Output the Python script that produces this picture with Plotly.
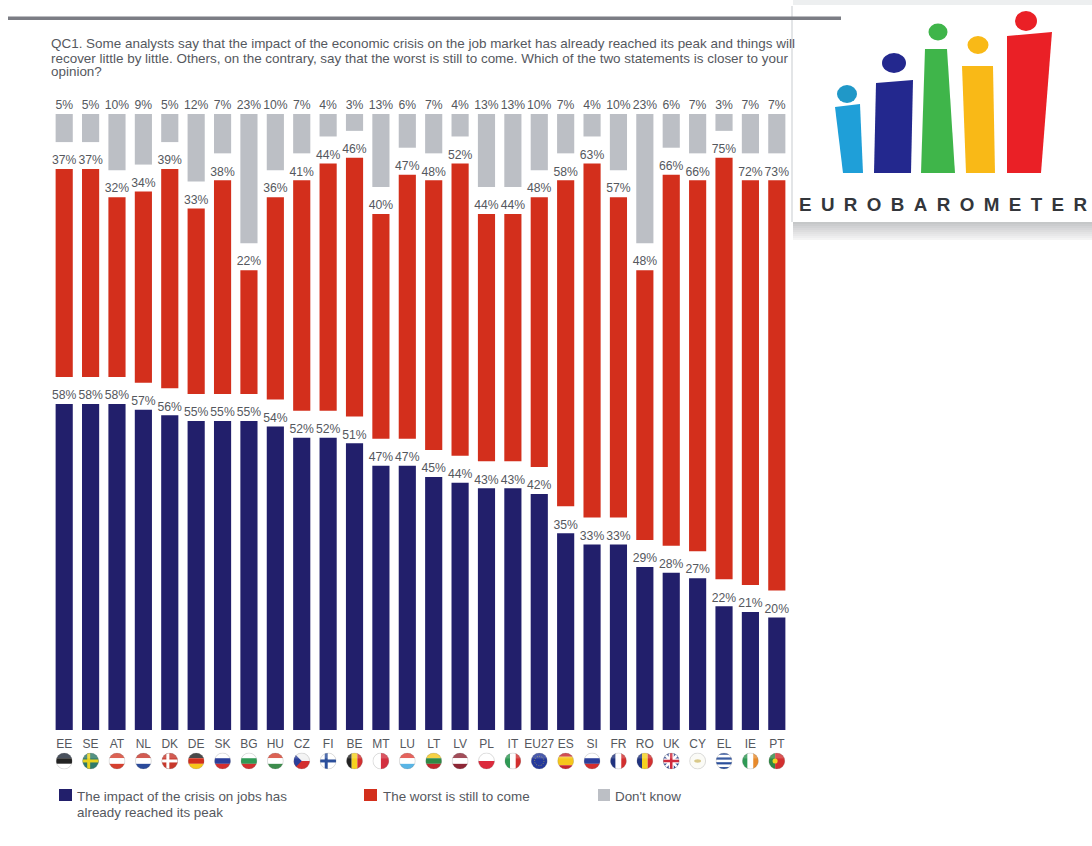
import base64
import plotly.graph_objects as go

countries = ["EE","SE","AT","NL","DK","DE","SK","BG","HU","CZ","FI","BE","MT","LU","LT","LV","PL","IT","EU27","ES","SI","FR","RO","UK","CY","EL","IE","PT"]
peak_reached = [58,58,58,57,56,55,55,55,54,52,52,51,47,47,45,44,43,43,42,35,33,33,29,28,27,22,21,20]
still_to_come = [37,37,32,34,39,33,38,22,36,41,44,46,40,47,48,52,44,44,48,58,63,57,48,66,66,75,72,73]
dont_know = [5,5,10,9,5,12,7,23,10,7,4,3,13,6,7,4,13,13,10,7,4,10,23,6,7,3,7,7]
series_names = [["The impact of the crisis on jobs has", "already reached its peak"], ["The worst is still to come"], ["Don't know"]]
question_lines = ["QC1. Some analysts say that the impact of the economic crisis on the job market has already reached its peak and things will",
                  "recover little by little. Others, on the contrary, say that the worst is still to come. Which of the two statements is closer to your",
                  "opinion?"]
GAP = 4.8
LABEL_LIFT = 0.3
NAVY, RED, GREY, TXT = "#221f6b", "#d32f1c", "#bcbfc5", "#55585e"
FONT = "Liberation Sans, Arial, sans-serif"

W, H = 1092, 846
L, R, T, B = 51, 790, 94, 730
UNIT_PX = 616 / (100 + 2 * GAP)
px = lambda v: (v - L) / (R - L)
py = lambda v: (B - v) / (B - T)

red_base = [a + GAP for a in peak_reached]
grey_base = [a + b + 2 * GAP for a, b in zip(peak_reached, still_to_come)]
pct = lambda vals: [f"{v}%" for v in vals]

fig = go.Figure()
for vals, base, col in [(peak_reached, None, NAVY), (still_to_come, red_base, RED), (dont_know, grey_base, GREY)]:
    fig.add_bar(x=countries, y=vals, base=base, marker=dict(color=col, line_width=0), width=0.65, showlegend=False, hoverinfo="x+y")
for vals, base in [(peak_reached, [0] * 28), (still_to_come, red_base), (dont_know, grey_base)]:
    fig.add_scatter(x=countries, y=[a + b + LABEL_LIFT for a, b in zip(vals, base)], mode="text", text=pct(vals),
                    textposition="top center", textfont=dict(family=FONT, size=12.2, color=TXT),
                    cliponaxis=False, showlegend=False, hoverinfo="skip")

shapes, annos, images = [], [], []

def rect(x0, y0, x1, y1, color, opacity=1, layer="above"):
    shapes.append(dict(type="rect", xref="paper", yref="paper", x0=px(x0), x1=px(x1), y0=py(y0), y1=py(y1),
                       fillcolor=color, opacity=opacity, line_width=0, layer=layer))

def poly(pts, color):
    d = "M" + "L".join(f"{px(x):.5f},{py(y):.5f}" for x, y in pts) + "Z"
    shapes.append(dict(type="path", xref="paper", yref="paper", path=d, fillcolor=color, line_width=0))

def disc(cx, cy, rx, ry, color):
    shapes.append(dict(type="circle", xref="paper", yref="paper", x0=px(cx - rx), x1=px(cx + rx),
                       y0=py(cy + ry), y1=py(cy - ry), fillcolor=color, line_width=0))

def text(x, y, s, size=13.4, color=TXT, anchor="start", weight=None):
    annos.append(dict(xref="paper", yref="paper", x=px(x), y=py(y), text=s, showarrow=False,
                      xanchor="left" if anchor == "start" else "center", yanchor="middle", align="left",
                      font=dict(family=FONT, size=size, color=color, weight=weight), borderpad=0))

# logo card with its shadow
for i, op in enumerate([0.30, 0.27, 0.24, 0.21, 0.18, 0.15, 0.12, 0.09, 0.06]):
    rect(793, 222 + i * 2, 1092, 224 + i * 2, "#40444a", op)
rect(791, 6, 793, 222, "#c8cbcf", 0.5)
rect(793, 0, 1092, 5, "#e6e8ea", 0.7)
poly([(835, 107), (860, 104), (863, 173), (843, 173)], "#1f9fd8")
disc(847, 94, 10, 9, "#2098c8")
poly([(876, 83), (913, 80), (911, 173), (874, 173)], "#23288e")
disc(894, 63, 12, 10, "#23288e")
poly([(925, 49), (947, 49), (955, 173), (921, 173)], "#3fb54a")
disc(938, 32, 9.5, 8.5, "#3fb54a")
poly([(962, 66), (993, 66), (995, 173), (966, 173)], "#f9b917")
disc(978, 45, 10.5, 9, "#f9b917")
poly([(1007, 36), (1052, 32), (1041, 173), (1007, 173)], "#ea2026")
disc(1026, 21, 11, 10, "#ea2026")
text(943, 204.5, "E\u2002U\u2002R\u2002O\u2002B\u2002A\u2002R\u2002O\u2002M\u2002E\u2002T\u2002E\u2002R", size=18.8, color="#33363b", anchor="middle", weight="bold")

# top rule
rect(8, 16.5, 841, 20, "#7b7d84")
# question
for i, line in enumerate(question_lines):
    text(50, 44 + 14 * i, line, size=13.45)
# legend
rect(59, 789, 72, 801, NAVY)
text(76, 796, series_names[0][0])
text(76, 812, series_names[0][1])
rect(364, 789, 377, 801, RED)
text(382, 796, series_names[1][0])
rect(598, 789, 610, 801, GREY)
text(614, 796, series_names[2][0])

# flags
def stripes(cols, vertical=False):
    n = len(cols); out = ""
    for i, c in enumerate(cols):
        if vertical:
            out += f'<rect x="{i*20/n}" y="0" width="{20/n}" height="20" fill="{c}"/>'
        else:
            out += f'<rect x="0" y="{i*20/n}" width="20" height="{20/n}" fill="{c}"/>'
    return out
def nordic(bg, cross):
    return f'<rect width="20" height="20" fill="{bg}"/><rect x="6" width="3.5" height="20" fill="{cross}"/><rect y="8.2" width="20" height="3.5" fill="{cross}"/>'
flags = {
    "EE": stripes(["#222b3a", "#222", "#fff"]),
    "SE": nordic("#2f7a6a", "#e8d21f"),
    "AT": stripes(["#d5402f", "#fff", "#d5402f"]),
    "NL": stripes(["#c8382c", "#fff", "#2b4b9b"]),
    "DK": nordic("#c8382c", "#fff"),
    "DE": stripes(["#222", "#d32f1c", "#f6c71b"]),
    "SK": stripes(["#fff", "#2b3f9b", "#d32f2f"]),
    "BG": stripes(["#fff", "#2f9a55", "#d32f2f"]),
    "HU": stripes(["#d5402f", "#fff", "#3c8c4c"]),
    "CZ": '<rect width="20" height="10" fill="#f2f2f2"/><rect y="10" width="20" height="10" fill="#d32f2f"/><path d="M0 0L10 10L0 20Z" fill="#2b3f9b"/>',
    "FI": nordic("#fff", "#2b4f9b"),
    "BE": stripes(["#222", "#f6d21f", "#d32f2f"], True),
    "MT": stripes(["#fff", "#d32f3f"], True),
    "LU": stripes(["#e0413a", "#fff", "#59b5e6"]),
    "LT": stripes(["#f6c71b", "#2f8a45", "#c1272d"]),
    "LV": stripes(["#8e2635", "#fff", "#8e2635"]),
    "PL": stripes(["#fff", "#dc2a3c"]),
    "IT": stripes(["#2f9a55", "#fff", "#d32f2f"], True),
    "EU27": '<rect width="20" height="20" fill="#24389b"/><circle cx="10" cy="10" r="5.5" fill="none" stroke="#d8c93a" stroke-width="0.8" stroke-dasharray="1 1.8"/>',
    "ES": stripes(["#c8262c", "#f6c71b", "#f6c71b", "#c8262c"]),
    "SI": stripes(["#fff", "#2b3f9b", "#d32f2f"]),
    "FR": stripes(["#20327f", "#fff", "#d32f2f"], True),
    "RO": stripes(["#20327f", "#f6d21f", "#d32f2f"], True),
    "UK": '<rect width="20" height="20" fill="#2b3f8b"/><path d="M0 0L20 20M20 0L0 20" stroke="#fff" stroke-width="3"/><rect x="7" width="6" height="20" fill="#fff"/><rect y="7" width="20" height="6" fill="#fff"/><rect x="8.5" width="3" height="20" fill="#cf2a3c"/><rect y="8.5" width="20" height="3" fill="#cf2a3c"/>',
    "CY": '<rect width="20" height="20" fill="#fbfbf6"/><ellipse cx="10" cy="10" rx="4" ry="2" fill="#d9c98a"/>',
    "EL": stripes(["#2b4f9b", "#fff", "#2b4f9b", "#fff", "#2b4f9b", "#fff", "#2b4f9b"]),
    "IE": stripes(["#2f9a55", "#fff", "#e88a2b"], True),
    "PT": '<rect width="8" height="20" fill="#2f8a45"/><rect x="8" width="12" height="20" fill="#d32f2f"/><circle cx="8" cy="10" r="3" fill="#f3d21f"/>',
}
step = (R - L) / 28
for i, c in enumerate(countries):
    svg = (f'<svg xmlns="http://www.w3.org/2000/svg" viewBox="0 0 20 20" width="40" height="40"><defs><clipPath id="c">'
           f'<circle cx="10" cy="10" r="9.4"/></clipPath></defs><g clip-path="url(#c)">{flags[c]}'
           f'<rect width="20" height="7" fill="#fff" opacity="0.18"/></g><circle cx="10" cy="10" r="9.4" fill="none" stroke="#777" stroke-width="0.5" opacity="0.6"/></svg>')
    src = "data:image/svg+xml;base64," + base64.b64encode(svg.encode()).decode()
    cx = L + step * (i + 0.5)
    images.append(dict(source=src, xref="paper", yref="paper", x=px(cx), y=py(761), sizex=17 / (R - L), sizey=17 / (B - T),
                       xanchor="center", yanchor="middle", sizing="contain", layer="above"))

fig.update_layout(
    width=W, height=H, margin=dict(l=L, r=W - R, t=T, b=H - B, pad=0, autoexpand=False), autosize=False,
    paper_bgcolor="#ffffff", plot_bgcolor="#ffffff", barmode="overlay", showlegend=False, font=dict(family=FONT),
    xaxis=dict(type="category", categoryorder="array", categoryarray=countries, range=[-0.5, 27.5], showgrid=False, zeroline=False,
               showline=False, ticks="", tickangle=0, ticklabelstandoff=5, tickfont=dict(family=FONT, size=12, color=TXT)),
    yaxis=dict(range=[0, (B - T) / UNIT_PX], visible=False, showgrid=False, zeroline=False),
    shapes=shapes, annotations=annos, images=images,
)
fig.write_html("out.html", config={"displayModeBar": False},
               post_script="document.body.style.margin='0';document.body.style.overflow='hidden';")
